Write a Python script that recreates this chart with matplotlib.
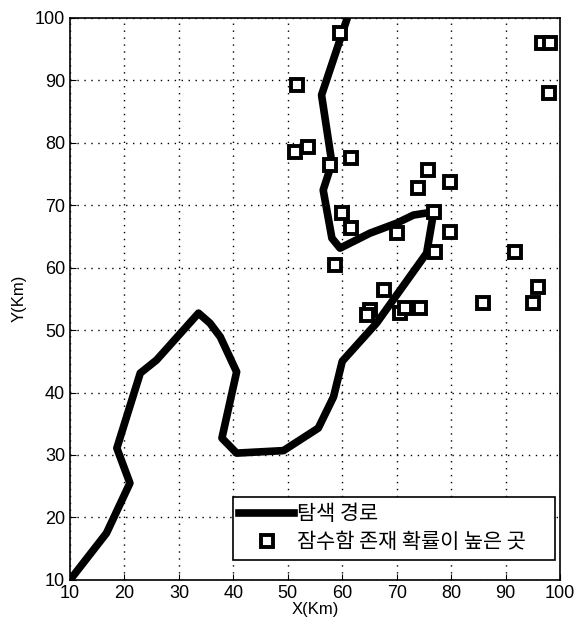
import matplotlib
matplotlib.use("Agg")
import matplotlib.pyplot as plt

plt.rcParams["font.family"] = ["Liberation Sans", "Noto Sans CJK KR", "DejaVu Sans"]

# search path (km)
path_x = [10.0, 16.7, 21.0, 18.6, 22.9, 25.9, 33.6, 35.7, 37.6, 40.6, 37.9, 40.6,
          49.2, 55.6, 58.4, 60.0, 66.3, 75.5, 76.8, 73.1, 70.0, 65.1, 59.6, 58.1,
          56.5, 58.1, 56.2, 60.8]
path_y = [10.0, 17.5, 25.5, 31.1, 43.1, 45.2, 52.7, 51.1, 48.9, 43.3, 32.7, 30.3,
          30.7, 34.3, 39.3, 45.0, 51.1, 62.3, 68.9, 68.4, 67.1, 65.5, 63.1, 64.7,
          72.4, 76.7, 87.6, 99.6]

# high-probability submarine locations (km)
sub_x = [59.6, 51.6, 51.3, 53.8, 57.8, 61.7, 75.8, 74.0, 79.8, 59.9, 61.7, 70.0,
         76.8, 79.8, 77.0, 58.6, 91.7, 96.6, 98.2, 97.9, 67.6, 65.1, 64.5, 70.6,
         71.5, 74.3, 85.9, 96.0, 95.1]
sub_y = [97.5, 89.2, 78.5, 79.3, 76.4, 77.5, 75.6, 72.7, 73.7, 68.7, 66.3, 65.5,
         68.9, 65.7, 62.5, 60.4, 62.5, 95.9, 95.9, 87.9, 56.4, 53.2, 52.4, 52.7,
         53.5, 53.5, 54.3, 56.9, 54.3]

fig = plt.figure(figsize=(5.85, 6.27), dpi=100)
ax = fig.add_axes([0.1197, 0.075, 0.8376, 0.897])

ax.plot(path_x, path_y, color="black", linewidth=5.5, solid_joinstyle="round",
        label="탐색 경로", zorder=3)
ax.plot(sub_x, sub_y, linestyle="none", marker="s", markersize=9,
        markerfacecolor="white", markeredgecolor="black", markeredgewidth=2.8,
        label="잠수함 존재 확률이 높은 곳", zorder=4)

ax.set_xlim(10, 100)
ax.set_ylim(10, 100)
ax.set_xticks(range(10, 101, 10))
ax.set_yticks(range(10, 101, 10))
ax.tick_params(direction="in", length=4, labelsize=13, colors="black")
ax.grid(True, linestyle=(0, (1, 4)), color="black", linewidth=1)
for s in ax.spines.values():
    s.set_linewidth(1.2)

ax.set_xlabel("X(Km)", fontsize=12, labelpad=0)
ax.set_ylabel("Y(Km)", fontsize=12, labelpad=6)

# legend box stretched to a fixed width, text left-aligned
leg = ax.legend(loc="lower left", bbox_to_anchor=(0.333, 0.036, 0.657, 0.107),
                mode="expand", fontsize=15, frameon=True, fancybox=False,
                edgecolor="black", framealpha=1, borderaxespad=0,
                handlelength=2.6, handletextpad=0.15, borderpad=0.3,
                labelspacing=0.3)
leg.get_frame().set_linewidth(1.2)
for t in leg.get_texts():
    t.set_family(["Noto Sans CJK KR", "DejaVu Sans"])

fig.savefig("out.png", dpi=100)
